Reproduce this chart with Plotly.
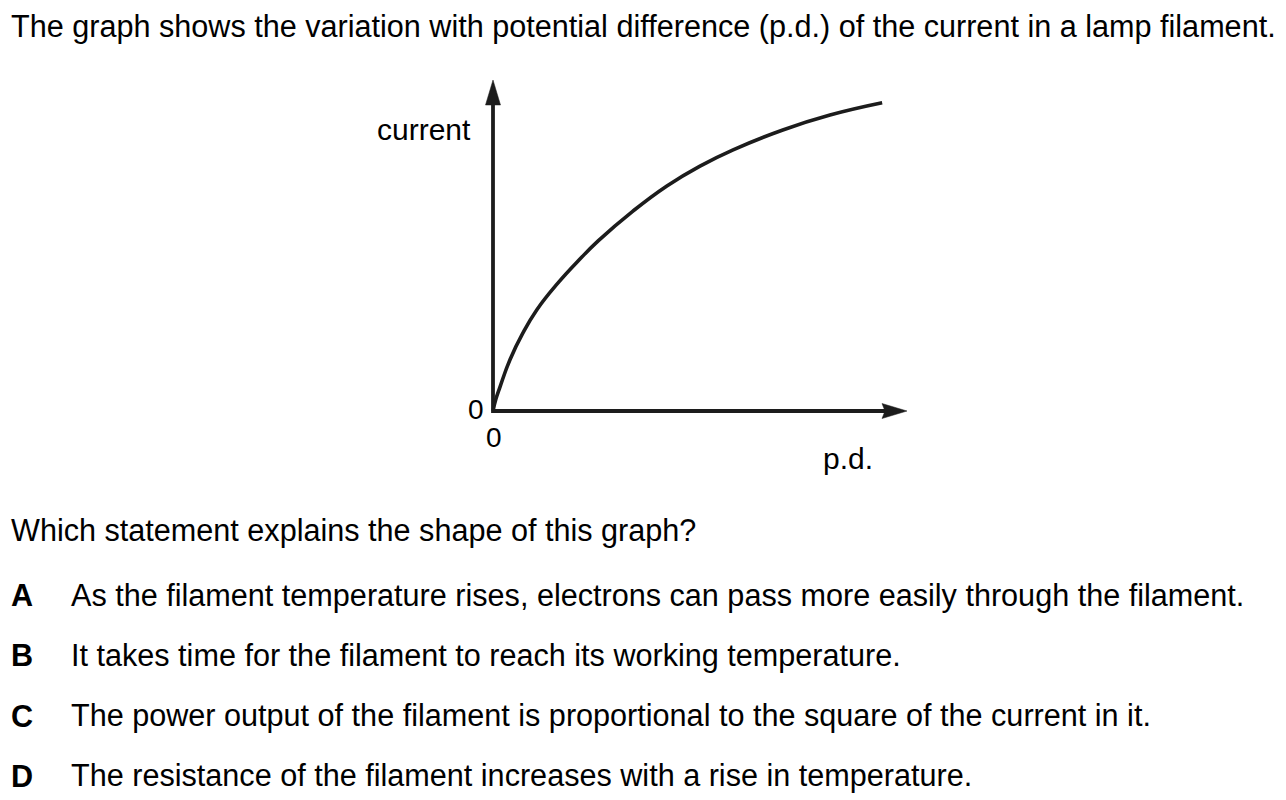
import plotly.graph_objects as go

# ---- data (arbitrary units, axis tips at 10) ----
pd_values = [0, 0.07, 0.17, 0.41, 0.72, 1.06, 1.55, 2.10, 2.54, 3.38, 4.20, 5.00, 5.80, 7.00, 8.14, 9.40]
current_values = [0, 0.36, 0.73, 1.55, 2.35, 3.06, 3.84, 4.59, 5.14, 6.04, 6.80, 7.40, 7.89, 8.49, 8.94, 9.31]
PD_MAX = 10.0
I_MAX = 10.0

question = "The graph shows the variation with potential difference (p.d.) of the current in a lamp filament."
prompt = "Which statement explains the shape of this graph?"
option_letters = ["A", "B", "C", "D"]
option_texts = [
    "As the filament temperature rises, electrons can pass more easily through the filament.",
    "It takes time for the filament to reach its working temperature.",
    "The power output of the filament is proportional to the square of the current in it.",
    "The resistance of the filament increases with a rise in temperature.",
]

# ---- layout geometry ----
W, H = 1286, 800
X0_PX, Y0_PX = 493, 411          # pixel of origin
PX_PER_X, PX_PER_Y = 41.4, 33.1  # pixels per unit
INK = "#1c1c1c"
FONT = "Liberation Sans, Arial, sans-serif"
BODY = 30.6

x_range = [-X0_PX / PX_PER_X, (W - X0_PX) / PX_PER_X]
y_range = [-(H - Y0_PX) / PX_PER_Y, Y0_PX / PX_PER_Y]

fig = go.Figure()
fig.add_trace(go.Scatter(
    x=pd_values, y=current_values, mode="lines",
    line=dict(color=INK, width=3.6, shape="spline", smoothing=1.3),
    hoverinfo="skip", showlegend=False,
))

# axes with arrowheads
head_len_x = 25 / PX_PER_X
head_len_y = 25 / PX_PER_Y
half_w_x = 7.5 / PX_PER_X
half_w_y = 7.5 / PX_PER_Y
lw = 3.8
shapes = [
    dict(type="line", x0=0, y0=-2 / PX_PER_Y, x1=0, y1=I_MAX - head_len_y + 0.1,
         line=dict(color=INK, width=lw)),
    dict(type="line", x0=0, y0=0, x1=PD_MAX - head_len_x + 0.1, y1=0,
         line=dict(color=INK, width=lw)),
    dict(type="path",
         path=f"M {-half_w_x} {I_MAX - head_len_y} L 0 {I_MAX} L {half_w_x} {I_MAX - head_len_y} Z",
         fillcolor=INK, line=dict(color=INK, width=0.5)),
    dict(type="path",
         path=(f"M {PD_MAX - head_len_x} {-half_w_y} L {PD_MAX} 0 "
               f"L {PD_MAX - head_len_x} {half_w_y} L {PD_MAX - head_len_x + 3 / PX_PER_X} 0 Z"),
         fillcolor=INK, line=dict(color=INK, width=0.5)),
]

def py(p):
    return 1 - p / H

def px(p):
    return p / W

ann = []
ann.append(dict(text=question, x=px(9), y=py(27), xanchor="left", yanchor="middle",
                font=dict(size=BODY, color="black", family=FONT)))
ann.append(dict(text="current", x=px(473), y=py(129), xanchor="right", yanchor="middle",
                font=dict(size=30, color="black", family=FONT)))
ann.append(dict(text="0", x=px(476), y=py(410), xanchor="center", yanchor="middle",
                font=dict(size=28, color="black", family=FONT)))
ann.append(dict(text="0", x=px(494), y=py(437), xanchor="center", yanchor="middle",
                font=dict(size=28, color="black", family=FONT)))
ann.append(dict(text="p.d.", x=px(848), y=py(458), xanchor="center", yanchor="middle",
                font=dict(size=30, color="black", family=FONT)))
ann.append(dict(text=prompt, x=px(9), y=py(530), xanchor="left", yanchor="middle",
                font=dict(size=BODY, color="black", family=FONT)))
for i, (letter, txt) in enumerate(zip(option_letters, option_texts)):
    yc = 595 + i * 60.3
    ann.append(dict(text=f"<b>{letter}</b>", x=px(9), y=py(yc), xanchor="left", yanchor="middle",
                    font=dict(size=BODY, color="black", family=FONT)))
    ann.append(dict(text=txt, x=px(69), y=py(yc), xanchor="left", yanchor="middle",
                    font=dict(size=BODY, color="black", family=FONT)))
for a in ann:
    a.update(xref="paper", yref="paper", showarrow=False)

fig.update_layout(
    width=W, height=H, margin=dict(l=0, r=0, t=0, b=0),
    paper_bgcolor="white", plot_bgcolor="white",
    xaxis=dict(range=x_range, visible=False, fixedrange=True, domain=[0, 1]),
    yaxis=dict(range=y_range, visible=False, fixedrange=True, domain=[0, 1]),
    shapes=shapes, annotations=ann, showlegend=False,
)
fig.write_html("out.html", config={"displayModeBar": False},
               post_script="document.body.style.margin='0';document.body.style.overflow='hidden';")
